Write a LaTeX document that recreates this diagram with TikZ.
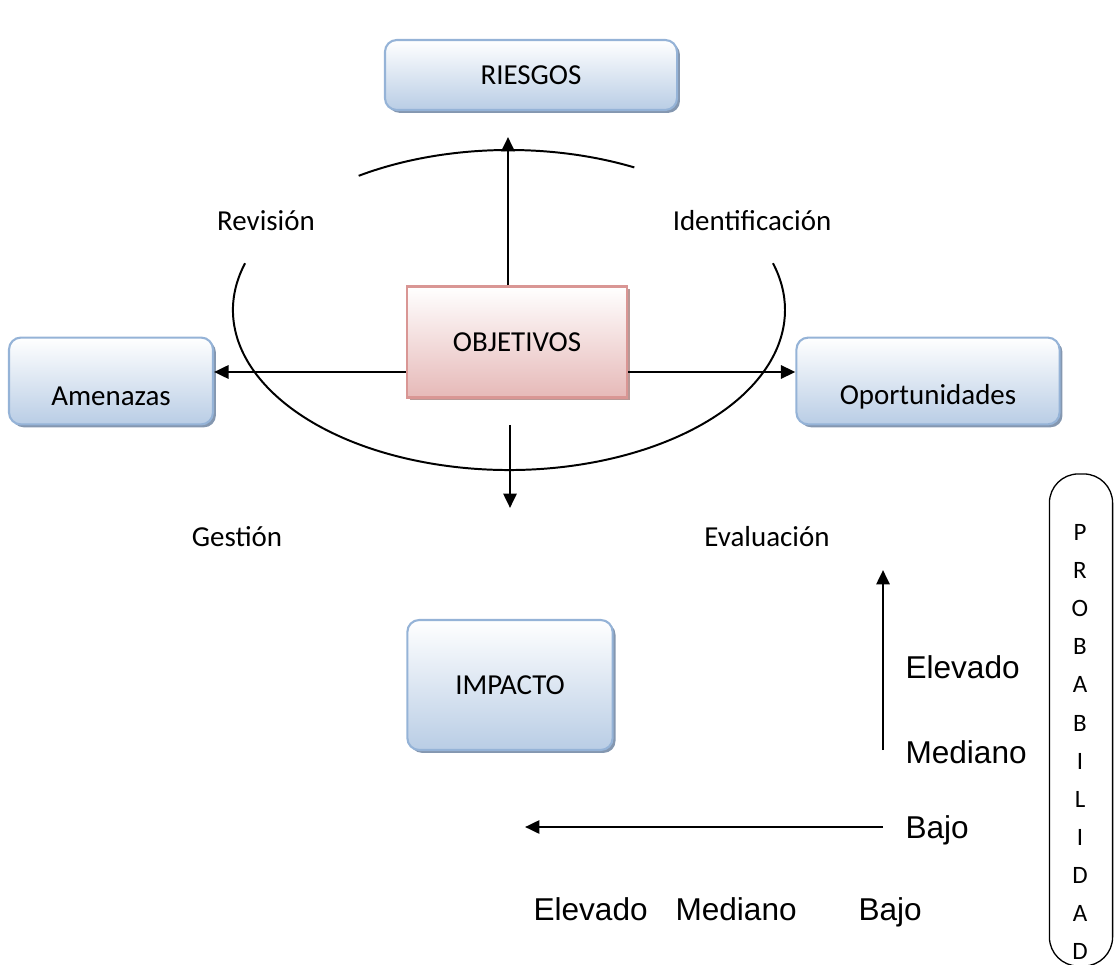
\documentclass[tikz,border=0pt]{standalone}
\usepackage{fontspec}
\setmainfont{Carlito}
\newfontfamily\arialfont{Liberation Sans}
\usetikzlibrary{arrows.meta, shadows, positioning}

\definecolor{boxblue}{HTML}{B9CDE5}
\definecolor{lineblue}{HTML}{95B3D7}
\definecolor{shadeblue}{HTML}{8497B0}
\definecolor{boxpink}{HTML}{E6B9B8}
\definecolor{linepink}{HTML}{D99694}
\definecolor{shadepink}{HTML}{B89896}

\begin{document}
\begin{tikzpicture}[x=0.38pt,y=-0.38pt,>={Triangle[length=5.5pt,width=5pt]},
      blue node/.style={rectangle,rounded corners=4.5pt,draw=lineblue,line width=0.8pt,
        top color=white,bottom color=boxblue,font=\fontsize{11}{13}\selectfont,
        drop shadow={shadow xshift=1.1pt,shadow yshift=-1.1pt,fill=shadeblue,opacity=1}},
      pink node/.style={rectangle,draw=linepink,line width=0.8pt,
        top color=white,bottom color=boxpink,font=\fontsize{11}{13}\selectfont,
        drop shadow={shadow xshift=1.1pt,shadow yshift=-1.1pt,fill=shadepink,opacity=1}},
      word node/.style={font=\fontsize{11}{13}\selectfont},
      scale node/.style={font=\arialfont\fontsize{12}{14}\selectfont,anchor=base west,inner sep=0pt}]

    \useasboundingbox (0,0) rectangle (1114,965);

    \node[blue node,minimum width=111pt,minimum height=26.6pt] (riesgos) at (531,75) {RIESGOS};
    \node[pink node,minimum width=83.6pt,minimum height=42.2pt] (obj) at (517,342) {OBJETIVOS};
    \node[blue node,minimum width=77.5pt,minimum height=33pt,
      label={[word node,yshift=-6pt]center:Amenazas}] (amen) at (111,381) {};
    \node[blue node,minimum width=100pt,minimum height=33pt,
      label={[word node,yshift=-6pt]center:Oportunidades}] (opor) at (928,381) {};
    \node[blue node,minimum width=78pt,minimum height=49.4pt] (impacto) at (510,685) {IMPACTO};

    % ciclo
    \coordinate (ell) at (509,310);
    \draw[line width=0.75pt] ([shift={(-123:276 and 160)}]ell)
      arc[start angle=-123,end angle=-63,x radius=276,y radius=160];
    \draw[line width=0.75pt] ([shift={(-163:276 and 160)}]ell)
      arc[start angle=-163,end angle=-377,x radius=276,y radius=160];

    \node[word node] (rev) at (266,221) {Revisión};
    \node[word node] (ident) at (752,221) {Identificación};
    \node[word node] (gest) at (237,537) {Gestión};
    \node[word node] (eval) at (767,537) {Evaluación};

    \coordinate (up) at (508,137);
    \coordinate (hl) at (0,372);
    \coordinate (d1) at (510,425);
    \coordinate (d2) at (510,508);
    \coordinate (pa) at (883,750);
    \coordinate (pb) at (883,570);
    \coordinate (pc) at (883,827);
    \coordinate (pd) at (525,827);

    \path[->,line width=1pt]
        (obj.north -| up) edge (up)
        (obj.west |- hl) edge (amen.east |- hl)
        (obj.east |- hl) edge (opor.west |- hl)
        (d1) edge (d2)
        (pa) edge (pb)
        (pc) edge (pd)
    ;

    % escalas
    \node[scale node] (elev) at (905,678) {Elevado};
    \node[scale node] (med) at (905,763) {Mediano};
    \node[scale node] (bajo) at (905,838) {Bajo};
    \node[scale node] (elev2) at (533,920) {Elevado};
    \node[scale node] (med2) at (675,920) {Mediano};
    \node[scale node] (bajo2) at (858,920) {Bajo};

    \node[draw,rounded corners=11pt,line width=0.5pt,minimum width=24pt,
      minimum height=187pt] (prob) at (1081,720) {};
    \node[align=center,font=\fontsize{9.5}{14.45}\selectfont] (probtxt) at (1080,742)
      {P\\R\\O\\B\\A\\B\\I\\L\\I\\D\\A\\D};
\end{tikzpicture}
\end{document}
